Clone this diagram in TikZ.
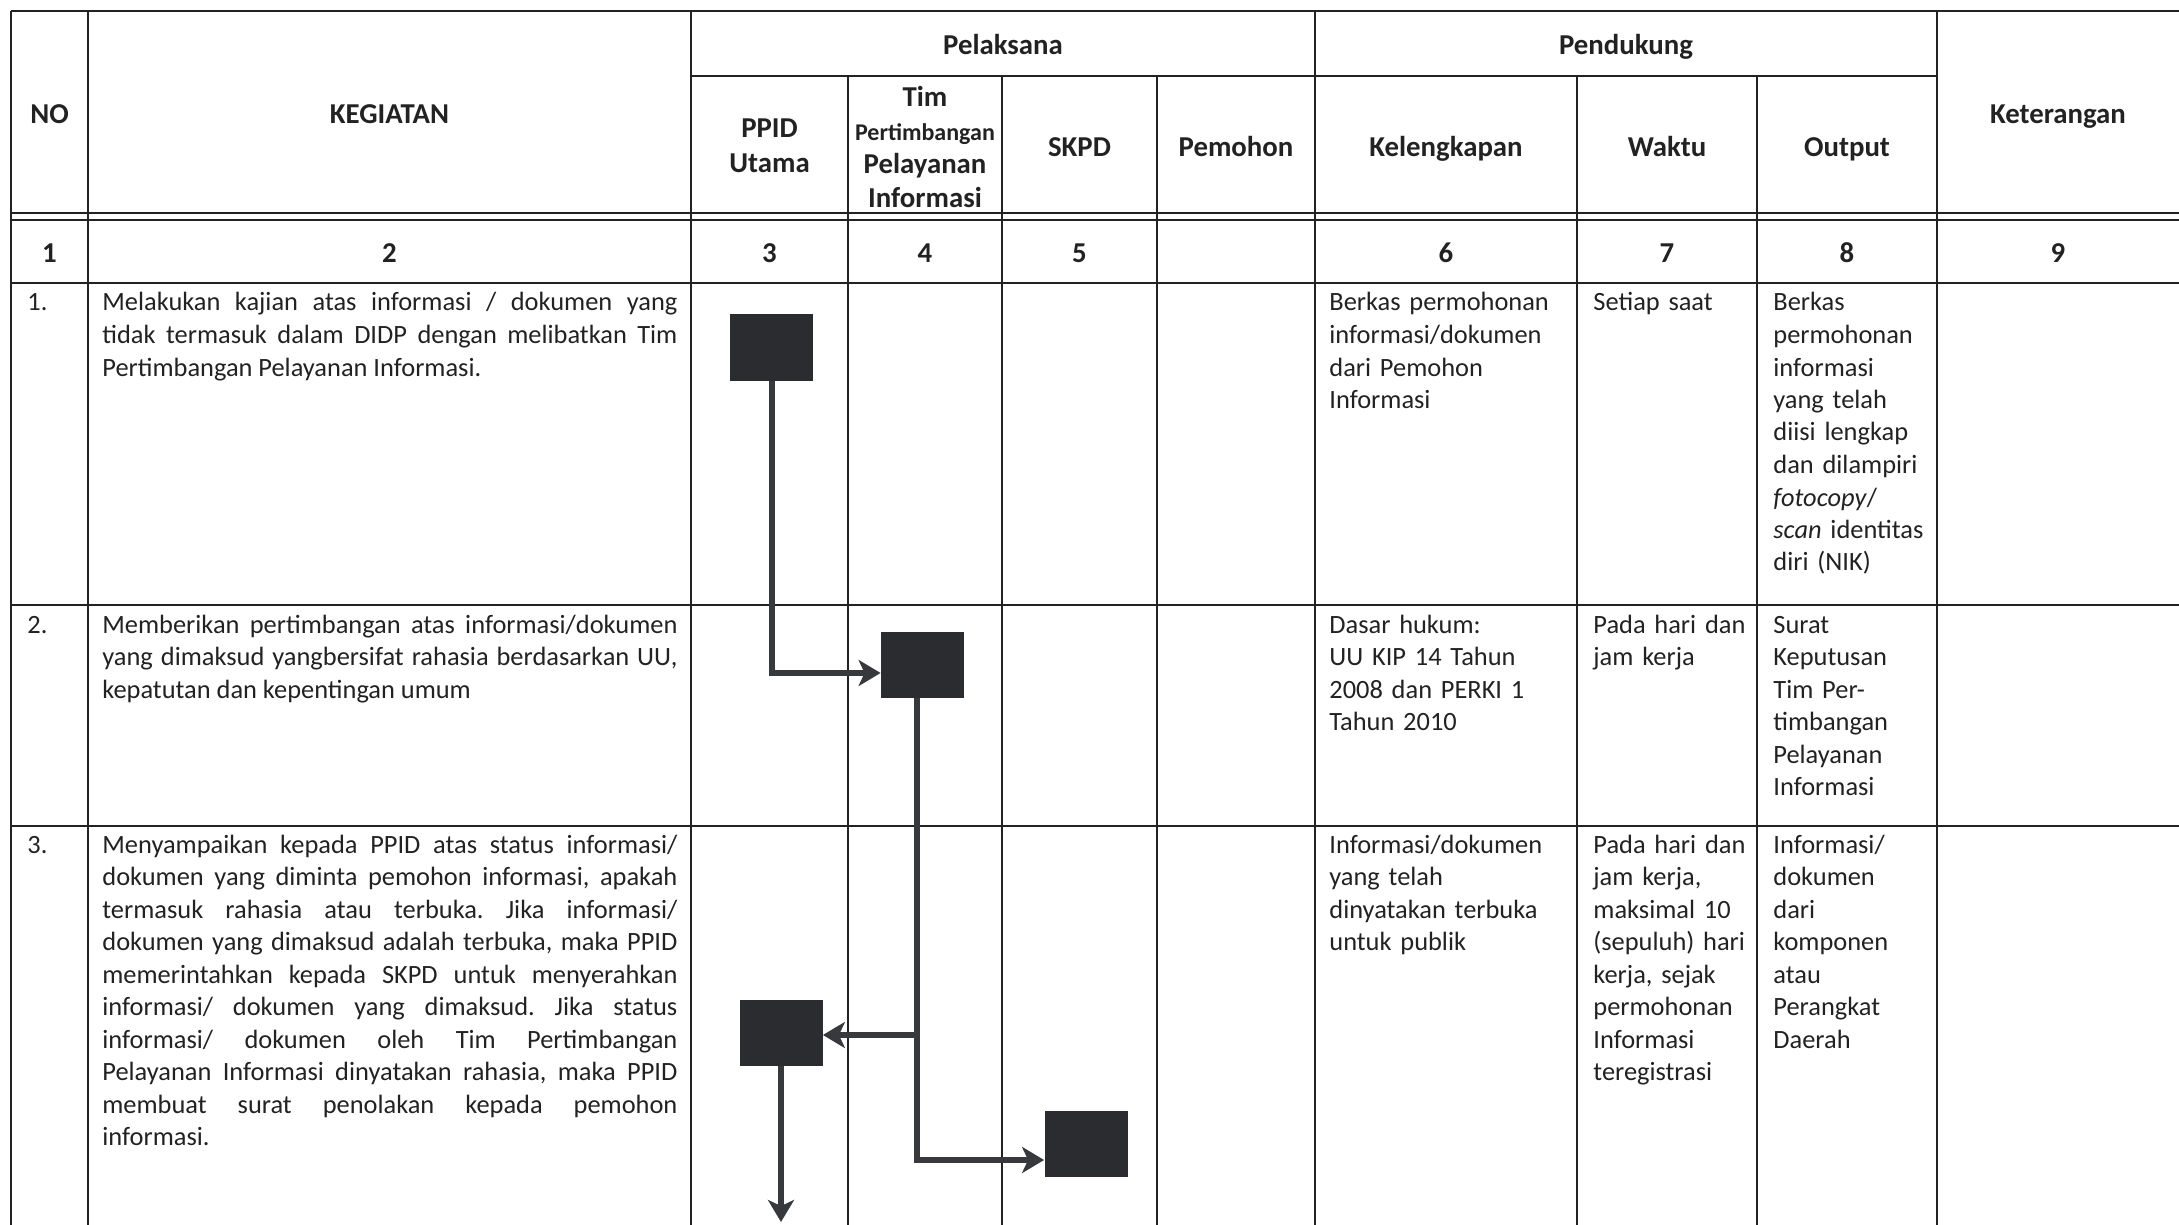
\documentclass[tikz,border=0pt]{standalone}
\usepackage{fontspec}
\setmainfont{Carlito}
\usetikzlibrary{arrows.meta,calc}
\definecolor{ink}{HTML}{222222}
\definecolor{rulec}{HTML}{222222}
\definecolor{boxc}{HTML}{2A2C2F}
\definecolor{connc}{HTML}{37393C}
\frenchspacing
\begin{document}
\begin{tikzpicture}[x=0.5pt,y=-0.5pt,
  grid/.style={draw=rulec,line width=1pt},
  hd/.style={font=\fontsize{14.4pt}{16.7pt}\selectfont\bfseries,text=ink,inner sep=0pt,anchor=base,align=center},
  hdm/.style={hd,text width=75pt},
  body/.style={font=\fontsize{13.2pt}{16.25pt}\selectfont,text=ink,inner sep=0pt,anchor=base west,text width=150pt,align=left},
  kg/.style={font=\fontsize{13.2pt}{16.25pt}\selectfont,text=ink,inner sep=0pt,anchor=base west,text width=287.5pt,align=justify},
  blk/.style={fill=boxc,minimum width=41.5pt,minimum height=33pt,inner sep=0pt},
  flow/.style={draw=connc,line width=3pt,-{Stealth[length=11pt,width=13pt,inset=3pt]}}
]
\useasboundingbox (0,0) rectangle (2179,1225);
\fill[white] (0,0) rectangle (2179,1225);

% ---- table rules ----
\draw[grid] (11,11) -- (2179,11);
\draw[grid] (691,76) -- (1937,76);
\draw[grid] (11,213) -- (2179,213);
\draw[grid] (11,220) -- (2179,220);
\draw[grid] (11,283) -- (2179,283);
\draw[grid] (11,605) -- (2179,605);
\draw[grid] (11,826) -- (2179,826);
\foreach \xx in {11,88,691,1315,1937} {\draw[grid] (\xx,11) -- (\xx,1225);}
\foreach \xx in {848,1002,1157,1577,1757} {\draw[grid] (\xx,76) -- (\xx,1225);}

% ---- header ----
\node[hd] (hNO) at (49.5,124) {NO};
\node[hd] (hKEG) at (389.5,124) {KEGIATAN};
\node[hd] (hPel) at (1003,55) {Pelaksana};
\node[hd] (hPen) at (1626,55) {Pendukung};
\node[hd] (hKet) at (2058,124) {Keterangan};
\node[hdm,font=\fontsize{14.4pt}{17.5pt}\selectfont\bfseries] (hPPID) at (769.5,138) {PPID\\Utama};
\node[hdm] (hTim) at (925,107) {Tim\\{\fontsize{12pt}{16.7pt}\selectfont Pertimbangan}\\Pelayanan\\Informasi};
\node[hd] (hSKPD) at (1079.5,157) {SKPD};
\node[hd] (hPem) at (1236,157) {Pemohon};
\node[hd] (hKel) at (1446,157) {Kelengkapan};
\node[hd] (hWak) at (1667,157) {Waktu};
\node[hd] (hOut) at (1847,157) {Output};

% ---- number row ----
\node[hd] (c1) at (49.5,263) {1};
\node[hd] (c2) at (389.5,263) {2};
\node[hd] (c3) at (769.5,263) {3};
\node[hd] (c4) at (925,263) {4};
\node[hd] (c5) at (1079.5,263) {5};
\node[hd] (c6) at (1446,263) {6};
\node[hd] (c7) at (1667,263) {7};
\node[hd] (c8) at (1847,263) {8};
\node[hd] (c9) at (2058,263) {9};

% ---- row 1 ----
\node[body] (n1) at (27,311) {1.};
\node[kg] (k1) at (102,311) {Melakukan kajian atas informasi / dokumen yang\linebreak tidak termasuk dalam DIDP dengan melibatkan Tim\linebreak Pertimbangan Pelayanan Informasi.};
\node[body] (l1) at (1329,311) {Berkas permohonan\\informasi/dokumen\\dari Pemohon\\Informasi};
\node[body] (w1) at (1593,311) {Setiap saat};
\node[body] (o1) at (1773,311) {Berkas\\permohonan\\informasi\\yang telah\\diisi lengkap\\dan dilampiri\\\textit{fotocopy}/\\\textit{scan} identitas\\diri (NIK)};

% ---- row 2 ----
\node[body] (n2) at (27,633) {2.};
\node[kg] (k2) at (102,633) {Memberikan pertimbangan atas informasi/dokumen\linebreak yang dimaksud yangbersifat rahasia berdasarkan UU,\linebreak kepatutan dan kepentingan umum};
\node[body] (l2) at (1329,633) {Dasar hukum:\\UU KIP 14 Tahun\\2008 dan PERKI 1\\Tahun 2010};
\node[body] (w2) at (1593,633) {Pada hari dan\\jam kerja};
\node[body] (o2) at (1773,633) {Surat\\Keputusan\\Tim Per-\\timbangan\\Pelayanan\\Informasi};

% ---- row 3 ----
\node[body] (n3) at (27,853) {3.};
\node[kg] (k3) at (102,853) {Menyampaikan kepada PPID atas status informasi/\linebreak dokumen yang diminta pemohon informasi, apakah\linebreak termasuk rahasia atau terbuka. Jika informasi/\linebreak dokumen yang dimaksud adalah terbuka, maka PPID\linebreak memerintahkan kepada SKPD untuk menyerahkan\linebreak informasi/ dokumen yang dimaksud. Jika status\linebreak informasi/ dokumen oleh Tim Pertimbangan\linebreak Pelayanan Informasi dinyatakan rahasia, maka PPID\linebreak membuat surat penolakan kepada pemohon\linebreak informasi.};
\node[body] (l3) at (1329,853) {Informasi/dokumen\\yang telah\\dinyatakan terbuka\\untuk publik};
\node[body] (w3) at (1593,853) {Pada hari dan\\jam kerja,\\maksimal 10\\(sepuluh) hari\\kerja, sejak\\permohonan\\Informasi\\teregistrasi};
\node[body] (o3) at (1773,853) {Informasi/\\dokumen\\dari\\komponen\\atau\\Perangkat\\Daerah};

% ---- flow blocks ----
\node[blk] (b1) at (771.5,347.5) {};
\node[blk] (b2) at (922.5,665) {};
\node[blk] (b3) at (781,1033) {};
\node[blk] (b4) at (1086,1144) {};

\coordinate (a1) at (772,673);
\coordinate (j1) at (917,1035);
\coordinate (j2) at (917,1160);
\coordinate (e3) at (781,1222);

\draw[flow] (b1.south) -- (b1.south |- a1) -- (a1 -| b2.west);
\draw[flow] (b2.south -| j1) -- (j2) -- (j2 -| b4.west);
\draw[flow] (j1) -- (j1 -| b3.east);
\draw[flow] (b3.south) -- (e3);
\end{tikzpicture}
\end{document}
